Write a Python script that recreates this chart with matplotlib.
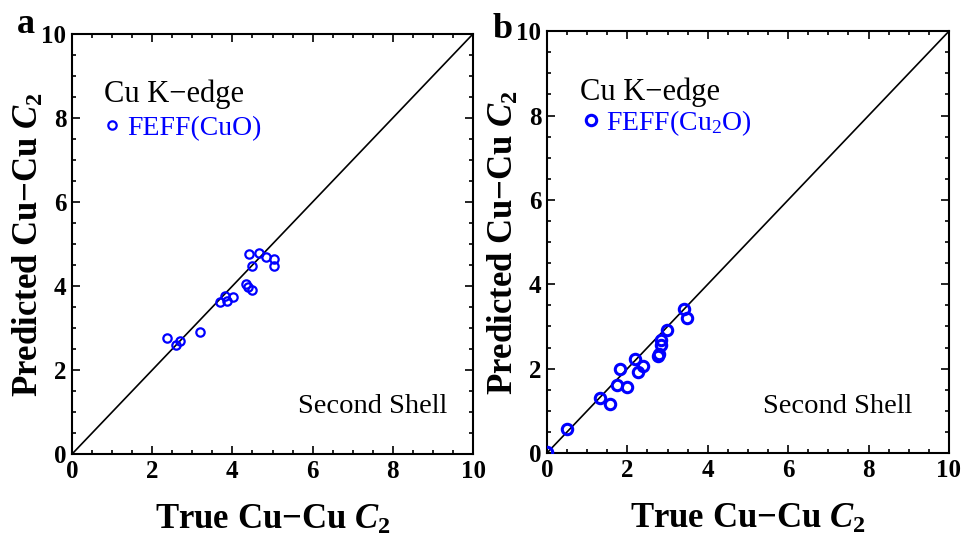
import matplotlib
matplotlib.use("Agg")
import matplotlib.pyplot as plt
from matplotlib.ticker import MultipleLocator

plt.rcParams['font.family'] = ['Liberation Serif', 'DejaVu Serif']
plt.rcParams['mathtext.fontset'] = 'custom'
plt.rcParams['mathtext.rm'] = 'Liberation Serif:bold'
plt.rcParams['mathtext.it'] = 'Liberation Serif:italic:bold'
plt.rcParams['mathtext.bf'] = 'Liberation Serif:bold'

# panel a: FEFF(CuO), second shell Cu-Cu coordination
true_cuo = [2.36, 2.59, 2.70, 3.20, 3.69, 3.81, 3.86, 4.01, 4.34, 4.40, 4.50,
            4.50, 4.42, 4.66, 4.83, 5.03, 5.03]
pred_cuo = [2.77, 2.60, 2.70, 2.90, 3.63, 3.77, 3.65, 3.75, 4.04, 3.97, 3.90,
            4.48, 4.76, 4.79, 4.68, 4.64, 4.48]

# panel b: FEFF(Cu2O)
true_cu2o = [0.01, 0.50, 1.33, 1.57, 1.74, 1.82, 1.99, 2.20, 2.27, 2.40, 2.76,
             2.79, 2.84, 2.84, 2.99, 3.40, 3.48]
pred_cu2o = [0.03, 0.56, 1.30, 1.17, 1.61, 1.98, 1.57, 2.22, 1.91, 2.06, 2.30,
             2.34, 2.55, 2.67, 2.91, 3.41, 3.20]

fig = plt.figure(figsize=(9.64, 5.38), dpi=100)
ax_a = fig.add_axes([0.0747, 0.156, 0.416, 0.781])
ax_b = fig.add_axes([0.5674, 0.158, 0.417, 0.784])

# axes, data, label, letter, marker size/width, text positions
panels = [
    (ax_a, true_cuo, pred_cuo, 'FEFF(CuO)', 'a', 6.0, 1.6,
     (0.8, 8.38), (0.082, 0.776), (9.35, 0.98), (-0.092, 1.002)),
    (ax_b, true_cu2o, pred_cu2o, 'FEFF(Cu$_\\mathregular{2}$O)', 'b', 7.5, 2.2,
     (0.82, 8.36), (0.092, 0.782), (9.08, 0.95), (-0.085, 0.983)),
]

for ax, xs, ys, lab, letter, ms, mew, edge_xy, leg_xy, shell_xy, let_xy in panels:
    ax.plot([0, 10], [0, 10], color='black', lw=1.2, zorder=1)
    ax.plot(xs, ys, 'o', ls='none', mfc='none', mec='blue', mew=mew, ms=ms,
            label=lab, zorder=3)
    ax.set_xlim(0, 10)
    ax.set_ylim(0, 10)
    ax.xaxis.set_major_locator(MultipleLocator(2))
    ax.yaxis.set_major_locator(MultipleLocator(2))
    ax.xaxis.set_minor_locator(MultipleLocator(0.5))
    ax.yaxis.set_minor_locator(MultipleLocator(0.5))
    ax.tick_params(which='both', direction='in', top=True, right=True,
                   width=1.2)
    ax.tick_params(which='major', length=6, labelsize=18, pad=4)
    ax.tick_params(which='minor', length=3)
    for t in ax.get_xticklabels() + ax.get_yticklabels():
        t.set_fontweight('bold')
    for s in ax.spines.values():
        s.set_linewidth(1.5)
    ax.set_xlabel('True Cu\u2212Cu $\\mathit{C}_\\mathregular{2}$',
                  fontsize=25, fontweight='bold', labelpad=15)
    ax.set_ylabel('Predicted Cu\u2212Cu $\\mathit{C}_\\mathregular{2}$',
                  fontsize=25, fontweight='bold', labelpad=-3)
    ax.text(edge_xy[0], edge_xy[1], 'Cu K\u2212edge', fontsize=22)
    ax.legend(loc='center left', bbox_to_anchor=leg_xy, frameon=False,
              labelcolor='blue', fontsize=20, handlelength=0.5,
              handletextpad=0.3, borderpad=0, borderaxespad=0)
    ax.text(shell_xy[0], shell_xy[1], 'Second Shell', fontsize=20.5, ha='right')
    ax.text(let_xy[0], let_xy[1], letter, transform=ax.transAxes, fontsize=26,
            fontweight='bold', ha='right', va='baseline')

fig.savefig('out.png', dpi=100)
